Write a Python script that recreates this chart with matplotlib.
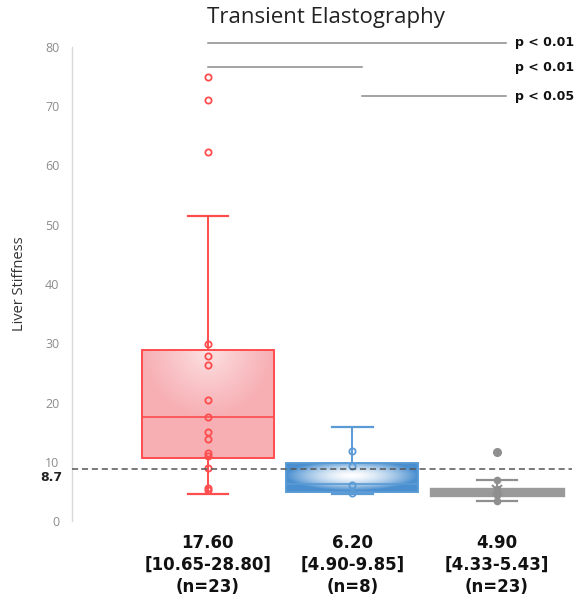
import matplotlib
matplotlib.use("Agg")
import matplotlib.pyplot as plt
import numpy as np
from matplotlib.colors import to_rgb

# ---- data ----
group_labels = ["17.60\n[10.65-28.80]\n(n=23)",
                "6.20\n[4.90-9.85]\n(n=8)",
                "4.90\n[4.33-5.43]\n(n=23)"]
medians = [17.60, 6.20, 4.90]
q1 = [10.65, 4.90, 4.33]
q3 = [28.80, 9.85, 5.43]
whis_lo = [4.5, 4.6, 3.3]
whis_hi = [51.5, 15.9, 7.0]
red_points = [75.0, 71.0, 62.3, 29.9, 27.9, 26.3, 20.4, 17.5, 15.1, 13.8,
              11.4, 10.9, 8.9, 5.5, 5.2]
blue_points = [11.8, 9.3, 6.0, 4.7]
gray_points = [7.0, 5.4, 4.9, 4.4, 3.3]
gray_outliers = [11.7]
gray_mean = [5.2]
cutoff = 8.7
p_labels = ["p < 0.01", "p < 0.01", "p < 0.05"]
p_pairs = [(0, 2), (0, 1), (1, 2)]
p_heights = [80.7, 76.6, 71.7]
yticks = [0, 10, 20, 30, 40, 50, 60, 70, 80]

# ---- style ----
edge_cols = ["#ff4d4d", "#5b9bd5", "#8f8f8f"]
positions = [0, 1, 2]
box_w = 0.913
cap_w = 0.28

fig = plt.figure(figsize=(5.76, 5.97), dpi=100)
ax = fig.add_axes([72/576, 1-521/597, (572-72)/576, (521-47)/597])
ax.set_xlim(-0.94, 2.52)
ax.set_ylim(0, 80)

for i in range(3):
    st = [dict(med=medians[i], q1=q1[i], q3=q3[i], whislo=whis_lo[i],
               whishi=whis_hi[i], fliers=[])]
    face = "#999999" if i == 2 else "none"
    res = ax.bxp(st, positions=[positions[i]], widths=box_w, capwidths=cap_w,
                 patch_artist=True, showfliers=False, manage_ticks=False,
                 boxprops=dict(facecolor=face, edgecolor=edge_cols[i] if i < 2 else "#9a9a9a",
                               linewidth=1.4 if i < 2 else 2.4, zorder=3),
                 whiskerprops=dict(color=edge_cols[i], linewidth=1.4),
                 capprops=dict(color=edge_cols[i], linewidth=1.6),
                 medianprops=dict(color=edge_cols[i] if i < 2 else "#9a9a9a",
                                  linewidth=1.2 if i < 2 else 0.8, zorder=4))
    box = res["boxes"][0]
    x0, x1 = positions[i] - box_w/2, positions[i] + box_w/2
    y0, y1 = q1[i], q3[i]
    if i < 2:
        nx, ny = 200, 200
        xx, yy = np.meshgrid(np.linspace(-1, 1, nx), np.linspace(0, 1, ny))
        if i == 0:
            light = np.array(to_rgb("#fde6e7"))
            dark = np.array(to_rgb("#f7afb4"))
            t = np.sqrt(xx**2 + ((1-yy)*1.6)**2) / 1.0
            t = np.clip(t, 0, 1) ** 0.8
        else:
            light = np.array(to_rgb("#ffffff"))
            dark = np.array(to_rgb("#4a8fd0"))
            t = np.sqrt((xx/1.0)**2 + (((yy-0.55)*2))**2)
            t = np.clip(t, 0, 1) ** 1.6
        img = light[None, None, :]*(1-t[..., None]) + dark[None, None, :]*t[..., None]
        im = ax.imshow(img, extent=[x0, x1, y0, y1], origin="lower",
                       aspect="auto", zorder=2, interpolation="bilinear")
        im.set_clip_path(box)

# points
ax.plot([0]*len(red_points), red_points, "o", ms=4.5, mfc="none",
        mec=edge_cols[0], mew=1.3, zorder=5)
ax.plot([1]*len(blue_points), blue_points, "o", ms=4.5, mfc="none",
        mec=edge_cols[1], mew=1.3, zorder=5)
ax.plot([2]*len(gray_points), gray_points, "o", ms=4.5, mfc="#8f8f8f",
        mec="#8f8f8f", zorder=5)
ax.plot([2]*len(gray_outliers), gray_outliers, "o", ms=5.5, mfc="#8f8f8f",
        mec="#8f8f8f", zorder=5)
ax.plot([2]*len(gray_mean), gray_mean, "x", ms=7, mec="#8f8f8f", mew=1.5,
        zorder=5)

# cutoff
ax.axhline(cutoff, color="#555555", linestyle=(0, (4, 2.5)), linewidth=1.1,
           zorder=6)

# significance lines
for (a, b), h, lab in zip(p_pairs, p_heights, p_labels):
    xa = a + (0.07 if a > 0 else 0.0)
    xb = b + 0.07 if b == 1 else b + 0.06
    ax.plot([xa, xb], [h, h], color="#8a8a8a", linewidth=1.1,
            clip_on=False, zorder=6)
    ax.text(2.125, h, lab, fontsize=9, fontweight="bold", color="#111111",
            va="center", ha="left", clip_on=False, family="DejaVu Sans")

# axes styling
for s in ["top", "right", "bottom"]:
    ax.spines[s].set_visible(False)
ax.spines["left"].set_color("#d9d9d9")
ax.spines["left"].set_linewidth(1.0)
ax.set_yticks(yticks)
ax.set_yticklabels([str(v) for v in yticks], color="#8c8c8c", fontsize=9,
                   family="Open Sans")
ax.tick_params(axis="y", length=0, pad=9)
ax.text(-0.02, cutoff - 1.3, f"{cutoff}", transform=ax.get_yaxis_transform(),
        fontsize=9, fontweight="bold", color="#222222", ha="right", va="center")

ax.set_xticks(positions)
ax.set_xticklabels(group_labels, fontsize=12, fontweight="bold",
                   color="#111111", linespacing=1.3)
ax.tick_params(axis="x", length=0, pad=9)

ax.set_ylabel("Liver Stiffness", fontsize=10.5, color="#333333",
              family="Open Sans", labelpad=13)
fig.text(326/576, 1-18/597, "Transient Elastography", fontsize=16,
         color="#222222", ha="center", va="center", family="Open Sans")

fig.savefig("out.png", dpi=100)
